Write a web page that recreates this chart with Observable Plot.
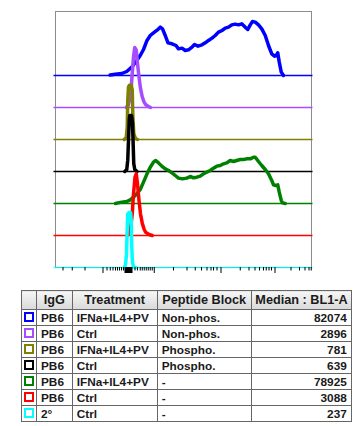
<!DOCTYPE html>
<html><head><meta charset="utf-8">
<script src="https://cdn.jsdelivr.net/npm/d3@7"></script>
<script src="https://cdn.jsdelivr.net/npm/@observablehq/plot@0.6"></script>
<style>
html,body{margin:0;padding:0;background:#fff;}
body{font-family:"Liberation Sans",Arial,sans-serif;width:364px;height:426px;position:relative;overflow:hidden;}
#chart{position:absolute;left:0;top:0;}
#tbl{position:absolute;left:21px;top:290px;border-collapse:collapse;table-layout:fixed;width:331px;font-weight:bold;color:#1a1a1a;}
#tbl td,#tbl th{border:1px solid #666;padding:0 4px;font-size:11.8px;line-height:14px;white-space:nowrap;overflow:hidden;}
#tbl th{font-size:12.7px;padding:0 2px;background:linear-gradient(#f6f6f6,#d9d9d9);text-align:center;}
#tbl tr.h{height:19px;}
#tbl tr.r{height:16px;}
#tbl td.num{text-align:right;padding-right:4.5px;}
#tbl td.sqc{text-align:center;padding:0;}
.sq{display:inline-block;width:6px;height:6px;border:2px solid;vertical-align:middle;margin-top:-2px;}
</style>
</head><body>
<div id="chart"></div>
<table id="tbl"></table>
<script>
// ---- series meta (top to bottom) ----
const names = ["PB6 IFNa+IL4+PV Non-phos.", "PB6 Ctrl Non-phos.", "PB6 IFNa+IL4+PV Phospho.", "PB6 Ctrl Phospho.", "PB6 IFNa+IL4+PV -", "PB6 Ctrl -", "2° Ctrl -"];
const colors = ["#0000ff", "#a64dff", "#808000", "#000000", "#008000", "#ff0000", "#00ffff"];
const igg = ["PB6", "PB6", "PB6", "PB6", "PB6", "PB6", "2°"];
const treatment = ["IFNa+IL4+PV", "Ctrl", "IFNa+IL4+PV", "Ctrl", "IFNa+IL4+PV", "Ctrl", "Ctrl"];
const peptide = ["Non-phos.", "Non-phos.", "Phospho.", "Phospho.", "-", "-", "-"];
const median = ["82074", "2896", "781", "639", "78925", "3088", "237"];
const header = ["", "IgG", "Treatment", "Peptide Block", "Median : BL1-A"];

// ---- histogram data: display channel (0-1024, BL1-A biexponential) vs count ----
const blueCh  = [218, 239, 265, 285, 305, 325, 339, 352, 366, 379, 392, 405, 419, 428, 439, 450, 466, 482, 492, 506, 519, 532, 546, 556, 570, 586, 599, 612, 626, 639, 652, 666, 679, 692, 705, 719, 732, 745, 759, 769, 779, 788, 799, 812, 825, 839, 852, 865, 876, 885, 889, 895, 903, 912];
const blueCnt = [0.5, 1.5, 2.5, 5, 10.4, 18.8, 25, 32.5, 43.8, 50, 53.3, 56.3, 60.4, 58.3, 50, 40.8, 39.6, 37.5, 33.3, 34.2, 31.3, 32.1, 35.4, 38.8, 36.7, 38.3, 40.8, 43.8, 46.7, 50, 54.2, 56.3, 59.2, 60.4, 63.3, 64.2, 63.3, 64.6, 60.4, 57.5, 63.3, 67.5, 66.7, 63.3, 58.3, 50, 37.5, 27.1, 24.2, 25.8, 28.3, 16.7, 4.2, 0];

const purpleCh  = [283, 291, 296, 302, 307, 312, 317, 323, 328, 334, 340, 347, 354, 360, 371, 380];
const purpleCnt = [0, 2.9, 9.2, 21.7, 42.5, 63.3, 75, 71.7, 55, 38.3, 23.8, 13.3, 7.1, 3.8, 1.3, 0];

const oliveCh  = [275, 283, 287, 289, 292, 296, 303, 307, 309, 313, 320, 328];
const oliveCnt = [0, 2.5, 15.8, 49.2, 65.8, 67.9, 67.9, 61.7, 32.5, 7.5, 1.3, 0];

const blackCh  = [277, 285, 289, 292, 295, 297, 304, 308, 311, 313, 317, 326];
const blackCnt = [0, 2.5, 14.2, 39.2, 64.2, 70, 70, 60.4, 30.8, 10, 2.5, 0];

const greenCh  = [240, 250, 265, 285, 299, 312, 325, 339, 352, 366, 379, 392, 401, 412, 425, 439, 452, 466, 479, 492, 508, 525, 539, 552, 565, 579, 592, 605, 619, 632, 645, 659, 672, 685, 699, 712, 725, 739, 752, 765, 779, 792, 799, 812, 825, 839, 852, 865, 872, 881, 889, 895, 903, 908, 919];
const greenCnt = [0, 0.8, 1.7, 2.5, 4.6, 7.9, 12.1, 17.5, 26.7, 37.1, 45.4, 51.7, 53.8, 50.8, 46.7, 43.3, 41.3, 38.3, 35, 31.7, 30.8, 31.7, 33.8, 32.1, 32.9, 34.2, 37.1, 39.2, 41.3, 44.2, 46.7, 47.5, 49.6, 50.8, 53.8, 52.5, 53.8, 55, 55, 55.8, 55.8, 57.9, 57.9, 52.5, 47.5, 42.5, 37.1, 28.8, 23.3, 22.5, 23.3, 14.2, 3.8, 0.8, 0];

const redCh  = [287, 296, 301, 307, 312, 318, 323, 328, 334, 340, 347, 354, 360, 374, 387];
const redCnt = [0, 2.9, 10.4, 27.1, 52.1, 72.9, 77.1, 64.6, 43.8, 27.1, 15.4, 8.3, 4.2, 1.3, 0];

const cyanCh  = [275, 280, 284, 287, 289, 294, 300, 303, 305, 308, 312, 320];
const cyanCnt = [0, 3.3, 16.7, 50, 66.7, 68.8, 68.8, 58.3, 25, 6.3, 0.8, 0];

// ---- axis ticks (display channels) ----
const minorTicks = [30, 67, 118, 206, 219, 230, 240, 248, 256, 264, 272, 318, 328, 339, 347, 355, 363, 371, 379, 387, 472, 526, 559, 584, 606, 622, 632, 646, 739, 774, 798, 816, 832, 843, 854, 864, 942, 976, 998, 1014, 1023];
const majorTicks = [190, 278, 280, 282, 284, 286, 288, 290, 292, 294, 296, 298, 300, 302, 304, 306, 395, 662, 878];

const chs = [blueCh, purpleCh, oliveCh, blackCh, greenCh, redCh, cyanCh];
const cnts = [blueCnt, purpleCnt, oliveCnt, blackCnt, greenCnt, redCnt, cyanCnt];
const step = 40; // vertical offset between overlaid histograms (counts)

const marks = [Plot.frame({stroke: "#8c8c8c"})];
names.forEach((n, i) => {
  const offset = (names.length - 1 - i) * step;
  const pts = chs[i].map((c, j) => ({ch: c, y: offset + cnts[i][j]}));
  marks.push(Plot.ruleY([offset], {stroke: colors[i], strokeWidth: 1.3, insetLeft: -1.5, insetRight: -1.5, strokeOpacity: i === names.length - 1 ? 0.7 : 1}));
  marks.push(Plot.line(pts, {x: "ch", y: "y", stroke: colors[i], strokeWidth: 3.5, strokeLinejoin: "round"}));
});
marks.push(Plot.axisX(minorTicks, {tickSize: 3.5, fill: "none", label: null, stroke: "#000"}));
marks.push(Plot.axisX(majorTicks, {tickSize: 6, fill: "none", label: null, stroke: "#000"}));

const chart = Plot.plot({
  width: 364,
  height: 280,
  marginLeft: 55,
  marginRight: 53,
  marginTop: 11,
  marginBottom: 13,
  x: {domain: [0, 1024], axis: null},
  y: {domain: [0, 320], axis: null},
  marks
});
document.getElementById("chart").appendChild(chart);

// ---- table ----
const tbl = document.getElementById("tbl");
const colW = [15, 35.7, 85, 94, 100.6];
let html = "<colgroup>" + colW.map(w => `<col style="width:${w}px">`).join("") + "</colgroup>";
html += '<tr class="h">' + header.map(h => `<th>${h}</th>`).join("") + "</tr>";
names.forEach((n, i) => {
  html += `<tr class="r"><td class="sqc"><span class="sq" style="border-color:${colors[i]}"></span></td><td>${igg[i]}</td><td>${treatment[i]}</td><td>${peptide[i]}</td><td class="num">${median[i]}</td></tr>`;
});
tbl.innerHTML = html;
</script>
</body></html>
